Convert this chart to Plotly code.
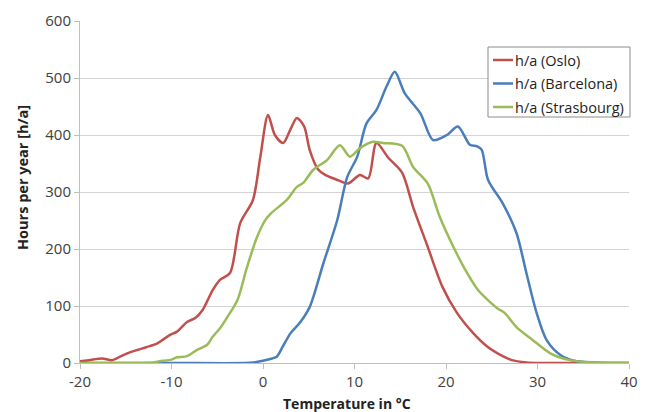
import plotly.graph_objects as go

# Oslo
oslo_t = [-20, -19, -17.6, -16.5, -15.5, -14.5, -13.5, -12.7, -11.5, -10.2, -9.4, -8.3, -7.4, -6.6, -5.5, -4.7, -3.6,
          -2.5, -1.1, -0.3, 0.55, 1.3, 2.2, 3.0, 3.7, 4.5, 5.1, 6.0, 6.8, 8.0, 9.3, 10.6, 11.5, 12.4, 13.7, 15.2,
          16.4, 18.0, 19.6, 21.2, 23.0, 24.5, 26.2, 27.2, 28.8, 30, 32, 35, 40]
oslo_h = [3, 5, 8, 5, 12, 19, 24, 28, 35, 49, 55, 72, 79, 93, 128, 146, 158,
          245, 286, 361, 435, 400, 386, 410, 430, 415, 374, 340, 330, 322, 315, 330, 324, 386, 360, 334,
          274, 204, 134, 88, 52, 29, 12, 5, 1, 0, 0, 0, 0]

# Barcelona
barc_t = [-20, -10, -2, -1, 0, 1, 1.5, 2.2, 3.0, 4.0, 5.1, 6.6, 8.1, 9.2, 10.3, 11.3, 12.4, 13.5, 14.4, 15.5,
          17.2, 18.6, 20.1, 21.3, 22.6, 23.4, 23.9, 24.6, 26.2, 27.7, 28.8, 29.9, 31.0, 32.5, 34, 36, 40]
barc_h = [0, 0, 0, 1, 4, 8, 11, 30, 52, 70, 98, 175, 250, 326, 362, 420, 444, 485, 511, 473,
          438, 391, 400, 415, 383, 380, 374, 321, 280, 228, 157, 88, 40, 14, 4, 1, 0]

# Strasbourg
stra_t = [-20, -14, -12, -11.3, -10, -9.4, -8.3, -7.2, -6.1, -5.5, -4.7, -4.0, -2.8, -1.75, -0.65, 0.3, 0.9,
          2.6, 3.7, 4.4, 5.5, 7.0, 8.4, 9.5, 10.6, 12.0, 13.1, 15.2, 16.4, 18.0, 19.3, 20.8, 22.3, 23.5,
          25.6, 26.4, 27.7, 29.5, 31.4, 33.5, 36, 40]
stra_h = [0, 0, 1, 3, 6, 10, 12, 23, 32, 46, 61, 78, 110, 168, 221, 252, 263,
          286, 309, 316, 339, 356, 382, 362, 377, 388, 386, 381, 344, 315, 257, 204, 158, 128,
          96, 88, 63, 40, 17, 5, 1, 0]

x_ticks = [-20, -10, 0, 10, 20, 30, 40]
x_tick_labels = ["-20", "-10", "0", "10", "20", "30", "40"]
y_ticks = [0, 100, 200, 300, 400, 500, 600]

names = ["h/a (Oslo)", "h/a (Barcelona)", "h/a (Strasbourg)"]
colors = ["#C0504D", "#4A7EBB", "#9BBB59"]

# the page body adds an 8px margin, so the figure is 8px smaller and starts at (8, 8)
OFF = 8
W, H = 646 - OFF, 412 - OFF
L, R, T, B = 80 - OFF, 17, 21 - OFF, 49
PW, PH = W - L - R, H - T - B


def px_x(px):
    # screen px (reference coordinates) -> paper x
    return (px - OFF - L) / PW


def px_y(py):
    return (H - B - (py - OFF)) / PH


fig = go.Figure()
for name, t, h, c in zip(names, [oslo_t, barc_t, stra_t], [oslo_h, barc_h, stra_h], colors):
    fig.add_trace(go.Scatter(x=t, y=h, name=name, mode="lines", showlegend=False,
                             line=dict(color=c, width=2.5, shape="spline", smoothing=0.8)))

FONT = "Open Sans, Liberation Sans, sans-serif"
shapes = [dict(type="rect", xref="paper", yref="paper",
               x0=px_x(488), x1=px_x(630), y0=px_y(117), y1=px_y(47),
               line=dict(color="#8c8c8c", width=1), fillcolor="white", layer="above")]
annotations = []
for i, (name, c) in enumerate(zip(names, colors)):
    yy = px_y(60 + i * 23.5)
    shapes.append(dict(type="line", xref="paper", yref="paper",
                       x0=px_x(493), x1=px_x(513), y0=yy, y1=yy,
                       line=dict(color=c, width=2.5), layer="above"))
    annotations.append(dict(text=name, xref="paper", yref="paper", x=px_x(513), y=yy,
                            xanchor="left", yanchor="middle", showarrow=False,
                            font=dict(family=FONT, size=14.5, color="#222222")))

annotations.append(dict(text="<b>Temperature in °C</b>", xref="paper", yref="paper",
                        x=px_x(347), y=px_y(403), xanchor="center", yanchor="middle", showarrow=False,
                        font=dict(family=FONT, size=14, color="#222222")))
annotations.append(dict(text="<b>Hours per year [h/a]</b>", xref="paper", yref="paper",
                        x=px_x(23), y=px_y(178), xanchor="center", yanchor="middle", showarrow=False,
                        textangle=-90,
                        font=dict(family=FONT, size=14.5, color="#222222")))

fig.update_layout(
    width=W, height=H,
    margin=dict(l=L, r=R, t=T, b=B),
    paper_bgcolor="white", plot_bgcolor="white",
    font=dict(family=FONT, size=15, color="#404040"),
    showlegend=False,
    shapes=shapes, annotations=annotations,
)
fig.update_xaxes(range=[-20, 40], tickvals=x_ticks, ticktext=x_tick_labels,
                 showgrid=False, zeroline=False, automargin=False,
                 showline=True, linecolor="#bfbfbf", linewidth=1,
                 ticks="outside", ticklen=5, tickcolor="#bfbfbf",
                 tickfont=dict(size=15, color="#404040"))
fig.update_yaxes(range=[0, 600], tickvals=y_ticks, showgrid=True, gridcolor="#d4d4d4", zeroline=False,
                 automargin=False,
                 showline=True, linecolor="#bfbfbf", linewidth=1,
                 ticks="outside", ticklen=5, tickcolor="#bfbfbf",
                 tickfont=dict(size=15, color="#404040"))

fig.write_html("out.html")
